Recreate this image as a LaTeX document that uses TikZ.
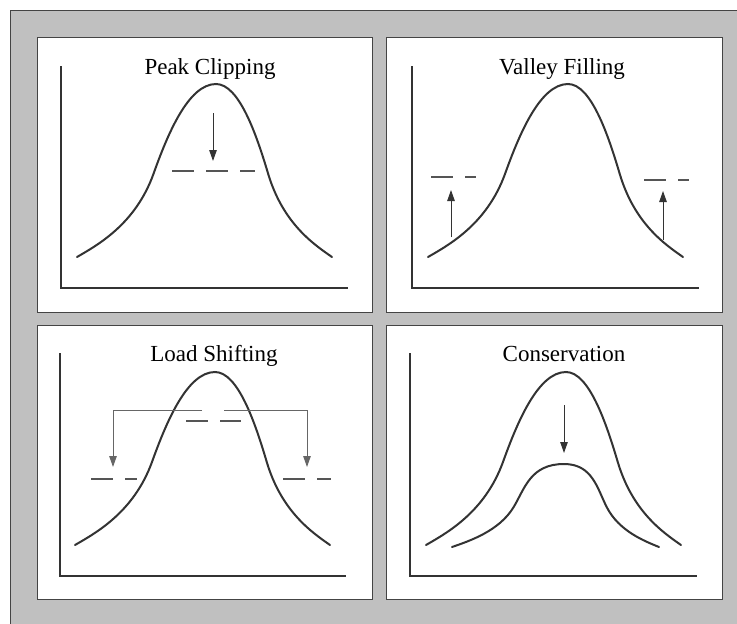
\documentclass[tikz,border=0pt]{standalone}
\usepackage{fontspec}
\setmainfont{Liberation Serif}
\usetikzlibrary{arrows.meta}
\definecolor{bggray}{HTML}{C0C0C0}
\definecolor{curvec}{HTML}{333333}
\definecolor{dashc}{HTML}{555555}
\definecolor{brackc}{HTML}{666666}
\definecolor{framec}{HTML}{444444}
\tikzset{
  panel/.style={draw=framec, line width=1pt, fill=white},
  axis/.style={draw=curvec, line width=2pt},
  bell/.style={draw=curvec, line width=2pt, line cap=round},
  level/.style={draw=dashc, line width=1.3pt, dash pattern=on 22pt off 12pt},
  shiftline/.style={draw=brackc, line width=1pt},
  movearrow/.style={draw=curvec, line width=1pt, -{Triangle[length=11pt,width=7.5pt]}},
  title/.style={font=\fontsize{23}{26}\selectfont, anchor=base, text=black, inner sep=0pt}
}
% #1 cx, #2 peak y, #3 left end x, #4 right end x, #5 end y,
% #6 top control fraction
\newcommand\bellcurve[6]{%
  \pgfmathsetmacro\bcWl{#1-#3}%
  \pgfmathsetmacro\bcWr{#4-#1}%
  \pgfmathsetmacro\bcH{#5-#2}%
  \draw[bell] (#3,#5)
    .. controls ({#1-0.85*\bcWl},{#2+0.93*\bcH}) and ({#1-0.58*\bcWl},{#2+0.81*\bcH}) .. ({#1-0.45*\bcWl},{#2+0.52*\bcH})
    .. controls ({#1-0.35*\bcWl},{#2+0.295*\bcH}) and ({#1-#6*\bcWl},#2) .. (#1,#2)
    .. controls ({#1+#6*\bcWr},#2) and ({#1+0.35*\bcWr},{#2+0.295*\bcH}) .. ({#1+0.45*\bcWr},{#2+0.52*\bcH})
    .. controls ({#1+0.58*\bcWr},{#2+0.81*\bcH}) and ({#1+0.85*\bcWr},{#2+0.93*\bcH}) .. (#4,#5);
}
\begin{document}
\begin{tikzpicture}[x=1pt,y=-1pt]
\useasboundingbox (0,0) rectangle (737,624);
% outer background
\fill[bggray] (10,10) rectangle (737,624);
\draw[framec, line width=1pt] (737,10) -- (10,10) -- (10,624);
% panels
\path[panel] (37,37) rectangle (372,312);
\path[panel] (386,37) rectangle (722,312);
\path[panel] (37,325) rectangle (372,599);
\path[panel] (386,325) rectangle (722,599);

% ---------- Peak Clipping ----------
\node[title] (t1) at (210,74) {Peak Clipping};
\draw[axis] (61,66) -- (61,288) -- (348,288);
\bellcurve{216}{84}{77}{332}{257}{0.2}
\draw[level] (172,171) -- (255,171);
\coordinate (p1a) at (213,113); \coordinate (p1b) at (213,161);
\draw[movearrow] (p1a) -- (p1b);

% ---------- Valley Filling ----------
\node[title] (t2) at (562,74) {Valley Filling};
\draw[axis] (412,66) -- (412,288) -- (699,288);
\bellcurve{568}{84}{428}{683}{257}{0.2}
\draw[level] (431,177) -- (476,177);
\draw[level] (644,180) -- (689,180);
\coordinate (p2a) at (451,237); \coordinate (p2b) at (451,190);
\coordinate (p2c) at (663,240); \coordinate (p2d) at (663,191);
\draw[movearrow] (p2a) -- (p2b);
\draw[movearrow] (p2c) -- (p2d);

% ---------- Load Shifting ----------
\node[title] (t3) at (214,361) {Load Shifting};
\draw[axis] (60,353) -- (60,576) -- (346,576);
\bellcurve{215}{372}{75}{330}{545}{0.2}
\draw[level] (186,421) -- (241,421);
\draw[level] (91,479) -- (137,479);
\draw[level] (283,479) -- (331,479);
\coordinate (p3a) at (202,410); \coordinate (p3b) at (113,410); \coordinate (p3c) at (113,467);
\coordinate (p3d) at (224,410); \coordinate (p3e) at (307,410); \coordinate (p3f) at (307,467);
\draw[shiftline] (p3a) -- (p3b);
\draw[movearrow, draw=brackc] (p3b) -- (p3c);
\draw[shiftline] (p3d) -- (p3e);
\draw[movearrow, draw=brackc] (p3e) -- (p3f);

% ---------- Conservation ----------
\node[title] (t4) at (564,361) {Conservation};
\draw[axis] (410,353) -- (410,576) -- (697,576);
\bellcurve{566}{372}{426}{681}{545}{0.2}
\bellcurve{564}{464}{452}{659}{547}{0.3}
\coordinate (p4a) at (564,405); \coordinate (p4b) at (564,453);
\draw[movearrow] (p4a) -- (p4b);
\end{tikzpicture}
\end{document}
